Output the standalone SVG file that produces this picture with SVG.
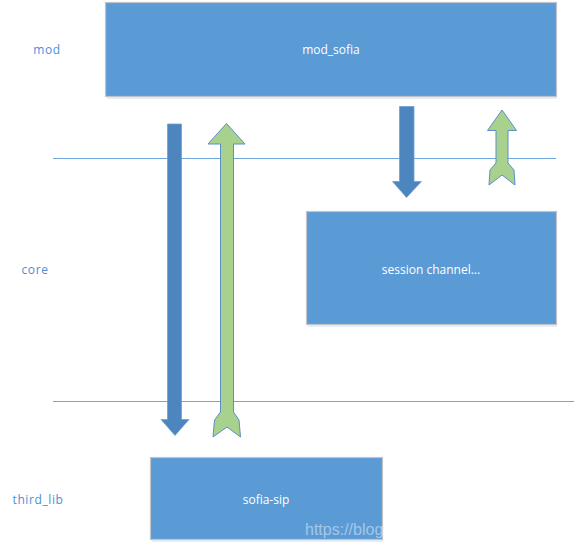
<svg xmlns="http://www.w3.org/2000/svg" width="576" height="549" viewBox="0 0 576 549">
<style>
.box{fill:#5b9bd5;stroke:#c0c4c8;stroke-width:1.2}
.shadow{fill:#e6eef8}
.lbl{font-family:"Open Sans","Noto Sans",sans-serif;font-size:12px;fill:#ffffff;text-anchor:middle;dominant-baseline:central}
.side{font-family:"Open Sans","Noto Sans",sans-serif;font-size:12px;letter-spacing:0.6px;fill:#4a8fd4;text-anchor:middle;dominant-baseline:central}
.line{stroke:#6fa6dc;stroke-width:1;fill:none}
.down{fill:#4d86bf;stroke:#6f9fd0;stroke-width:0.8}
.up{fill:#a9d18e;stroke:#5b8fc7;stroke-width:1}
</style>
<rect width="576" height="549" fill="#ffffff"/>
<g id="lines">
<line class="line" x1="53" y1="158.5" x2="556" y2="158.5"/>
<line class="line" x1="53" y1="401.5" x2="574" y2="401.5"/>
</g>
<g id="layer-labels">
<text class="side" x="47" y="49">mod</text>
<text class="side" x="35" y="269">core</text>
<text class="side" x="38" y="499">third_lib</text>
</g>
<g id="mod_sofia">
<rect class="shadow" x="107" y="97" width="450" height="2"/>
<rect class="box" x="105.5" y="2.5" width="451" height="94"/>
<text class="lbl" x="331" y="49">mod_sofia</text>
</g>
<g id="session_channel">
<rect class="shadow" x="308" y="325" width="249" height="2"/>
<rect class="box" x="306.5" y="211.5" width="250" height="113"/>
<text class="lbl" x="431" y="269">session channel...</text>
</g>
<g id="sofia_sip">
<rect class="shadow" x="152" y="540" width="231" height="2"/>
<rect class="box" x="150.5" y="457.5" width="232" height="82"/>
<text class="lbl" x="266" y="499">sofia-sip</text>
<text x="305" y="535" font-family="Liberation Sans, Arial, sans-serif" font-size="16" fill="#ffffff" fill-opacity="0.45">https://blog.</text>
</g>
<g id="connectors">
<polygon class="down" points="167.5,124 181.5,124 181.5,419.5 189,419.5 175,435.5 161,419.5 167.5,419.5"/>
<polygon class="up" points="226.5,123.5 245,144 233.5,144 233.5,412 239,420 240.5,437 227,427 213,437 214.5,420 220.5,412 220.5,144 208,144"/>
<polygon class="down" points="399.5,106.5 414,106.5 414,181.5 421.5,181.5 406.5,197.5 392.5,181.5 399.5,181.5"/>
<polygon class="up" points="502,110 516.5,130.5 508,130.5 508,163 514,170 515,185 502,175 489,185 490,170 496,163 496,130.5 487.5,130.5"/>
</g>
</svg>
